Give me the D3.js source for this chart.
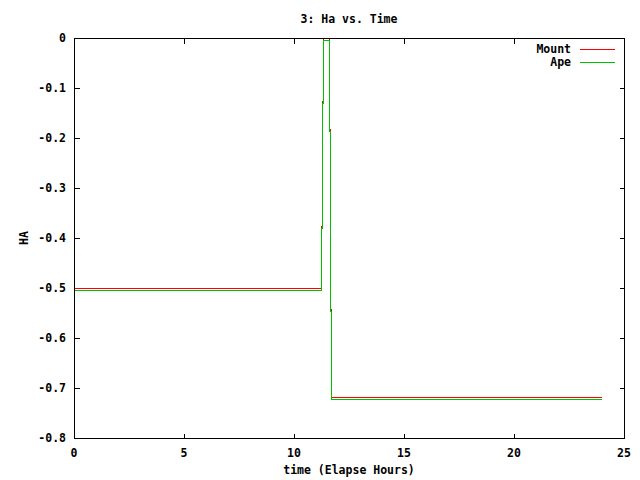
<!DOCTYPE html>
<html><head><meta charset="utf-8">
<script src="https://cdn.jsdelivr.net/npm/d3@7"></script>
<style>
body{margin:0;background:#fff;}
text{font-family:"DejaVu Sans Mono","Liberation Mono",monospace;font-size:11.5px;font-weight:bold;fill:#000;}
</style></head><body>
<svg id="c" width="640" height="480"></svg>
<script>
const title = "3: Ha vs. Time";
const xLabel = "time (Elapse Hours)";
const yLabel = "HA";
const xTicks = [0, 5, 10, 15, 20, 25];
const yTicks = [0, -0.1, -0.2, -0.3, -0.4, -0.5, -0.6, -0.7, -0.8];
const seriesNames = ["Mount", "Ape"];
const mountTime = [0, 11.23, 11.27, 11.32, 11.61, 11.65, 11.69, 23.94];
const mountHA   = [-0.5, -0.377, -0.127, 0, -0.182, -0.541, -0.718, -0.718];
const apeTime   = [0, 11.23, 11.27, 11.32, 11.61, 11.65, 11.69, 23.94];
const apeHA     = [-0.504, -0.38, -0.13, -0.004, -0.185, -0.545, -0.722, -0.722];

const colors = ["#ff0000", "#00c000"];
const L = 74, R = 624, T = 38, B = 438;
const svg = d3.select("#c");
const x = d3.scaleLinear().domain([0, 25]).range([L, R]);
const y = d3.scaleLinear().domain([-0.8, 0]).range([B, T]);
const px = v => Math.round(x(v)) + 0.5;
const py = v => Math.round(y(v)) + 0.5;

// ticks (inward, mirrored)
const tl = 5;
const g = svg.append("g").attr("stroke", "#000").attr("shape-rendering", "crispEdges");
xTicks.forEach(t => {
  g.append("line").attr("x1", px(t)).attr("x2", px(t)).attr("y1", B + 0.5).attr("y2", B + 0.5 - tl);
  g.append("line").attr("x1", px(t)).attr("x2", px(t)).attr("y1", T + 0.5).attr("y2", T + 0.5 + tl);
});
yTicks.forEach(t => {
  g.append("line").attr("x1", L + 0.5).attr("x2", L + 0.5 + tl).attr("y1", py(t)).attr("y2", py(t));
  g.append("line").attr("x1", R + 0.5).attr("x2", R + 0.5 - tl).attr("y1", py(t)).attr("y2", py(t));
});

// tick labels
svg.append("g").selectAll("text").data(xTicks).join("text")
  .attr("x", d => x(d)).attr("y", 457).attr("text-anchor", "middle").text(d => d);
svg.append("g").selectAll("text").data(yTicks).join("text")
  .attr("x", 66).attr("y", d => y(d) + 4).attr("text-anchor", "end")
  .text(d => d === 0 ? "0" : d3.format(".1f")(d).replace("−", "-"));

// series
const line = d3.line().x(d => px(d[0])).y(d => py(d[1])).curve(d3.curveStepAfter);
const series = [
  d3.zip(mountTime, mountHA),
  d3.zip(apeTime, apeHA)
];
series.forEach((s, i) => {
  svg.append("path").datum(s).attr("d", line).attr("fill", "none")
    .attr("stroke", colors[i]).attr("stroke-width", 1).attr("shape-rendering", "crispEdges");
});

// border
svg.append("rect").attr("x", L + 0.5).attr("y", T + 0.5).attr("width", R - L).attr("height", B - T)
  .attr("fill", "none").attr("stroke", "#000").attr("shape-rendering", "crispEdges");

// legend
seriesNames.forEach((n, i) => {
  const ly = 49 + i * 13;
  svg.append("text").attr("x", 571).attr("y", ly + 4).attr("text-anchor", "end").text(n);
  svg.append("line").attr("x1", 580).attr("x2", 615).attr("y1", ly + 0.5).attr("y2", ly + 0.5)
    .attr("stroke", colors[i]).attr("stroke-width", 1).attr("shape-rendering", "crispEdges");
});

// titles
svg.append("text").attr("x", 349).attr("y", 23).attr("text-anchor", "middle").text(title);
svg.append("text").attr("x", 349).attr("y", 474).attr("text-anchor", "middle").text(xLabel);
svg.append("text").attr("transform", "translate(28,238) rotate(-90)").attr("text-anchor", "middle").text(yLabel);
</script>
</body></html>
